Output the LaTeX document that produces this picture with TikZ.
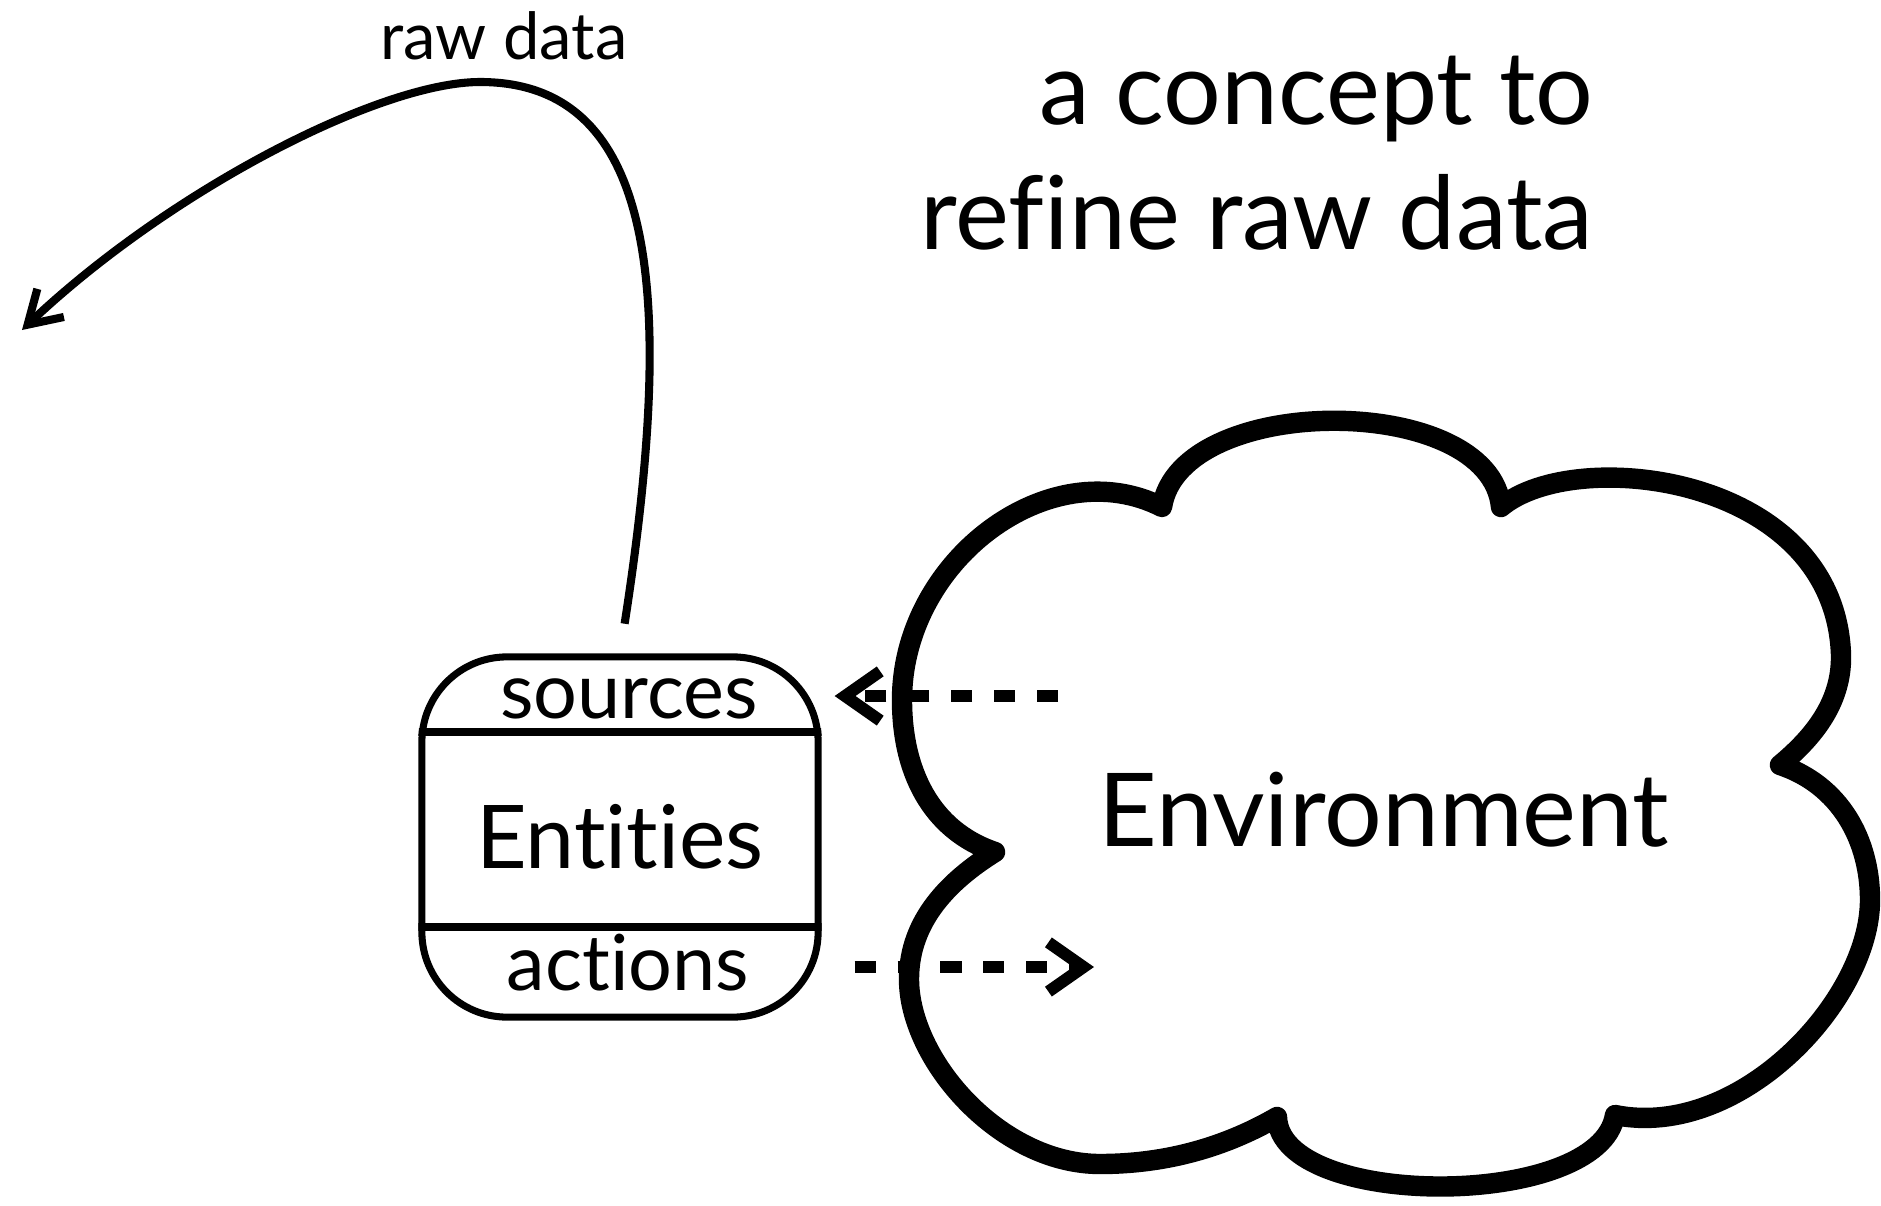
\documentclass[tikz,border=0pt]{standalone}
\usepackage{fontspec}
\setmainfont{Lato}[Ligatures=NoCommon]
\usetikzlibrary{arrows.meta}
\tikzset{
  cloudline/.style={line width=5.8pt, line join=round, line cap=round},
  entitybox/.style={draw, line width=2pt, rounded corners=0.85cm, minimum width=3.96cm, minimum height=3.6cm, inner sep=0pt, font=\fontsize{25}{30}\selectfont},
  divider/.style={line width=2pt},
  portlabel/.style={font=\fontsize{22}{26}\selectfont, inner sep=0pt},
  envlabel/.style={font=\fontsize{29}{34}\selectfont, inner sep=0pt},
  titlelabel/.style={font=\fontsize{29}{35.7}\selectfont, inner sep=0pt},
  rawlabel/.style={font=\fontsize{18.5}{22}\selectfont, inner sep=0pt},
  flowarrow/.style={line width=3.4pt, dash pattern=on 6pt off 6.2pt, -{Straight Barb[length=10pt,width=14pt]}},
  rawarrow/.style={line width=2.3pt, -{Straight Barb[length=9pt,width=11pt]}}
}
\begin{document}
\begin{tikzpicture}[x=0.01cm,y=-0.01cm]
\useasboundingbox (0,0) rectangle (1881,1206);

\draw[cloudline] (1162,507)
  .. controls (1180,392) and (1490,392) .. (1501,507)
  .. controls (1575,445) and (1835,475) .. (1841,655)
  .. controls (1842,705) and (1810,740) .. (1780,765)
  .. controls (1840,785) and (1870,840) .. (1870,900)
  .. controls (1870,1000) and (1740,1140) .. (1615,1115)
  .. controls (1600,1210) and (1280,1210) .. (1277,1117)
  .. controls (1220,1150) and (1160,1164) .. (1100,1164)
  .. controls (1000,1164) and (909,1060) .. (909,979)
  .. controls (909,920) and (950,880) .. (995,852)
  .. controls (930,830) and (902,770) .. (902,700)
  .. controls (902,560) and (1050,450) .. (1162,507) -- cycle;
\node[envlabel, anchor=base] (env) at (1384,846) {Environment};

\node[entitybox] (ent) at (620,837) {Entities};
\coordinate (srcline) at (620,732);
\coordinate (actline) at (620,927);
\begin{scope}
\clip[rounded corners=0.85cm] (ent.south west) rectangle (ent.north east);
\draw[divider] (ent.west |- srcline) -- (ent.east |- srcline);
\draw[divider] (ent.west |- actline) -- (ent.east |- actline);
\end{scope}
\node[portlabel, anchor=base] (src) at (629,718) {sources};
\node[portlabel, anchor=base] (act) at (628,990) {actions};

\coordinate (envout) at (1058,696);
\coordinate (envin) at (1094,967);
\draw[flowarrow, shorten >=0.13cm] (envout) -- (ent.east |- envout);
\draw[flowarrow, shorten <=0.33cm] (ent.east |- envin) -- (envin);

\node[rawlabel, anchor=base] (rawlbl) at (504,60) {raw data};
\coordinate (rawend) at (22,330);
\draw[rawarrow, shorten <=0.3cm] (ent.north) .. controls (675,300) and (660,82) .. (480,82) .. controls (380,82) and (170,190) .. (rawend);

\node[titlelabel, align=right, anchor=north east] (concept) at (1594,55) {a concept to\\refine raw data};
\end{tikzpicture}
\end{document}
